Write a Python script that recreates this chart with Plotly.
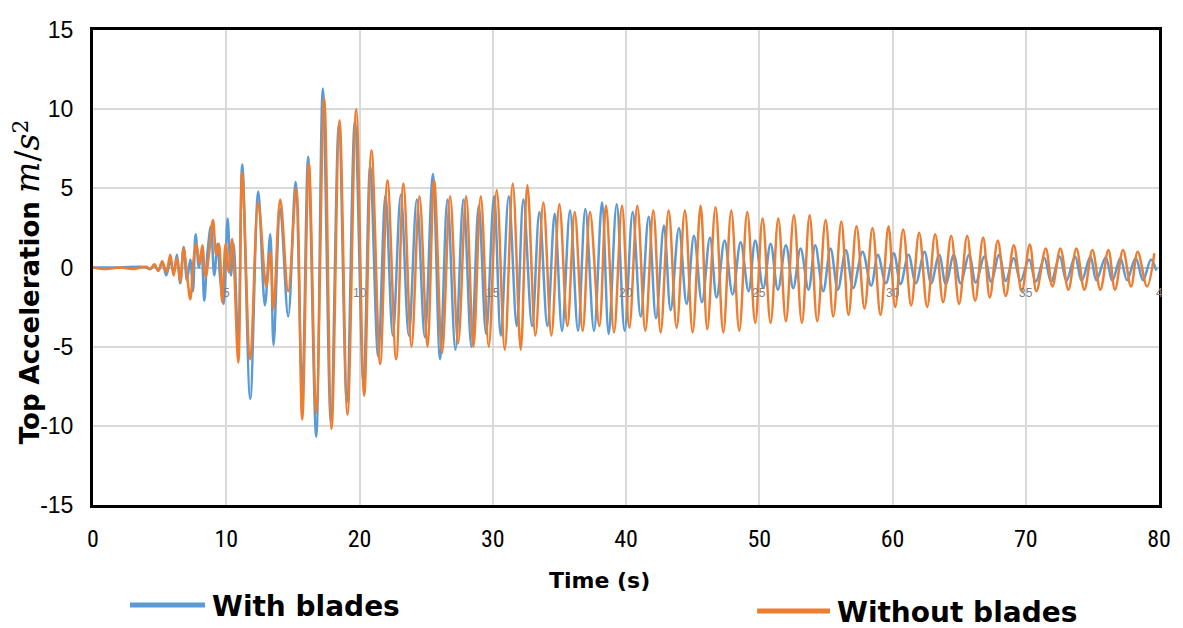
import plotly.graph_objects as go

# ---------------- data (extrema) ----------------
with_t = [0, 2, 3.5, 4.0, 4.3, 4.6, 4.9, 5.2, 5.5, 5.8, 6.05, 6.3, 6.55, 6.8, 7.05, 7.3, 7.5, 7.7, 7.95, 8.15, 8.35,
          8.6, 8.85, 9.1, 9.35, 9.55, 9.8, 10.1, 10.35, 10.55, 10.9,
          11.2, 11.8, 12.4, 12.9, 13.3, 13.55, 14.05, 14.65, 15.2, 15.7, 16.15, 16.75, 17.25, 17.85, 18.45, 19.05,
          19.65, 20.3, 20.8, 21.4, 21.95, 22.5, 23.1, 23.7, 24.3, 24.9, 25.5, 26.05, 26.6, 27.2, 27.8, 28.4, 28.95,
          29.5, 30.1, 30.6, 31.2, 31.8, 32.3, 32.95, 33.5, 34.1, 34.65, 35.2, 35.8, 36.4, 36.95, 37.6, 38.2, 38.7,
          39.3, 39.9, 40.5, 41.1, 41.7, 42.25, 42.85, 43.35, 43.97, 44.55, 45.1, 45.7, 46.3, 46.8, 47.4, 48.0, 48.6,
          49.2, 49.7, 50.3, 50.85, 51.4, 52.0, 52.55, 53.1, 53.7, 54.2, 54.8, 55.35, 55.9, 56.5, 57.05, 57.75, 58.4,
          58.9, 59.5, 60.1, 60.6, 61.2, 61.75, 62.4, 62.9, 63.5, 64.0, 64.6, 65.1, 65.75, 66.25, 66.9, 67.4, 68.0,
          68.5, 69.1, 69.6, 70.25, 70.75, 71.4, 71.9, 72.55, 73.05, 73.7, 74.2, 74.85, 75.3, 76.0, 76.5, 77.1, 77.6,
          78.25, 78.8, 79.4, 79.8]
with_v = [0, 0, 0.05, 0.0, -0.1, 0.15, -0.2, 0.3, -0.5, 0.4, -0.3, 0.8, -1.0, 1.3, -0.8, 0.5, -1.5, 2.1, 0.0, 1.0, -2.1,
          1.0, 2.6, -0.5, 1.5, -0.8, -2.3, 3.1, -0.5, 1.5, -4.8,
          6.5, -8.3, 4.8, -2.4, 2.1, -4.9, 3.7, -3.1, 5.4, -7.8, 7.0, -10.7, 11.3, -9.7, 9.0, -8.5,
          9.2, -7.3, 6.4, -5.6, 4.6, -4.3, 4.6, -4.3, 4.3, -4.4, 5.9, -5.8, 4.3, -5.2, 4.3, -5.0, 3.9,
          -4.2, 4.5, -4.3, 4.5, -3.7, 4.3, -3.7, 3.5, -3.7, 3.4, -4.0, 3.6, -4.0, 3.7, -4.0, 4.1, -4.2,
          4.0, -4.0, 3.5, -3.1, 3.2, -3.2, 2.65, -2.7, 2.5, -2.3, 2.0, -2.2, 1.9, -1.9, 1.7, -1.7, 1.6,
          -1.5, 1.7, -1.3, 1.5, -1.4, 1.4, -1.3, 1.2, -1.4, 1.4, -1.5, 1.2, -1.4, 1.1, -1.3, 1.0, -1.15,
          0.8, -1.0, 0.9, -1.05, 0.8, -1.0, 1.0, -1.0, 0.8, -1.05, 0.8, -1.0, 0.8, -0.95, 0.7, -0.9, 0.8,
          -0.85, 0.6, -0.85, 0.5, -0.9, 0.6, -0.9, 0.7, -0.85, 0.7, -0.85, 0.7, -0.8, 0.65, -0.85, 0.6, -0.8,
          0.6, -0.8, 0.5, -0.2]

without_t = [0, 1.0, 2.0, 3.0, 4.0, 4.3, 4.6, 4.9, 5.2, 5.5, 5.8, 6.05, 6.3, 6.55, 6.8, 7.05, 7.3, 7.55, 7.75, 8.0,
             8.2, 8.45, 8.7, 9.0, 9.25, 9.45, 9.7, 9.95, 10.2, 10.45, 10.9,
             11.2, 11.8, 12.4, 13.0, 13.3, 13.55, 14.05, 14.65, 15.25, 15.7, 16.2, 16.75, 17.35, 17.9, 18.5, 19.1,
             19.75, 20.35, 20.9, 21.55, 22.1, 22.75, 23.3, 23.9, 24.5, 25.1, 25.6, 26.2, 26.8, 27.4, 28.0, 28.55,
             29.1, 29.7, 30.3, 30.9, 31.5, 32.1, 32.6, 33.2, 33.8, 34.4, 35.0, 35.6, 36.15, 36.75, 37.3, 38.0, 38.5,
             39.1, 39.7, 40.25, 40.85, 41.45, 42.05, 42.6, 43.2, 43.8, 44.42, 45.0, 45.6, 46.1, 46.72, 47.3, 47.9,
             48.5, 49.1, 49.7, 50.25, 50.85, 51.43, 52.0, 52.6, 53.2, 53.78, 54.35, 54.98, 55.55, 56.16, 56.7, 57.3,
             57.9, 58.5, 59.1, 59.7, 60.2, 60.8, 61.4, 62.0, 62.6, 63.2, 63.8, 64.4, 65.0, 65.6, 66.2, 66.8, 67.3,
             67.9, 68.5, 69.1, 69.7, 70.3, 70.8, 71.5, 72.0, 72.6, 73.2, 73.8, 74.4, 75.0, 75.6, 76.2, 76.7, 77.3,
             77.9, 78.4, 79.1, 79.65]
without_v = [0, -0.1, 0.0, -0.1, 0.05, -0.1, 0.2, -0.2, 0.4, -0.3, 0.8, -0.5, 0.6, -0.9, 1.2, -0.4, -2.0, 0.5, 1.5, 0.2,
             1.4, -0.6, 0.8, 3.0, 0.8, 1.5, -2.2, 1.5, -0.3, 1.8, -6.0,
             6.0, -5.8, 4.1, -1.2, 1.0, -2.6, 4.3, -1.5, 5.0, -9.6, 6.6, -9.2, 10.7, -10.2, 9.3, -9.3,
             10.0, -8.1, 7.4, -6.1, 5.5, -5.8, 5.3, -5.0, 4.5, -5.0, 5.5, -5.4, 4.5, -4.8, 4.5, -5.0,
             4.5, -5.0, 4.9, -5.2, 5.3, -5.2, 5.2, -4.3, 4.1, -4.3, 4.0, -3.7, 3.5, -4.0, 3.5, -3.7, 3.9,
             -4.1, 3.9, -3.8, 3.9, -4.0, 3.6, -4.1, 3.6, -3.8, 3.6, -4.1, 3.9, -3.9, 3.8, -4.1, 3.6,
             -4.0, 3.5, -3.5, 3.1, -3.5, 3.1, -3.4, 3.3, -3.5, 3.3, -3.4, 3.0, -3.1, 2.9, -3.0, 2.6,
             -2.6, 2.5, -3.0, 2.6, -2.5, 2.4, -2.4, 2.2, -2.5, 2.1, -2.2, 2.0, -2.3, 2.0, -2.1, 1.9, -1.9,
             1.7, -1.8, 1.4, -1.5, 1.45, -1.5, 1.2, -1.2, 1.2, -1.4, 1.2, -1.4, 1.1, -1.4, 1.1, -1.4, 1.1,
             -1.2, 1.0, -1.2, 0.9]

x_ticks = [0, 10, 20, 30, 40, 50, 60, 70, 80]
x_labels = ["0", "10", "20", "30", "40", "50", "60", "70", "80"]
y_ticks = [-15, -10, -5, 0, 5, 10, 15]
y_labels = ["-15", "-10", "-5", "0", "5", "10", "15"]
inner_labels = ["5", "10", "15", "20", "25", "30", "35", "4"]
inner_pos = [10, 20, 30, 40, 50, 60, 70, 80]

BLUE = "#5B9BD5"
ORANGE = "#ED7D31"
XFONT = "Liberation Sans Narrow, Roboto Condensed, Roboto, Arial"
YFONT = "Liberation Sans, Arial"
BOLDFONT = "DejaVu Sans, Arial"

fig = go.Figure()
fig.add_trace(go.Scatter(x=with_t, y=with_v, mode="lines", name="With blades",
                         line=dict(color=BLUE, width=2.5, shape="spline", smoothing=1.0)))
fig.add_trace(go.Scatter(x=without_t, y=without_v, mode="lines", name="Without blades",
                         line=dict(color=ORANGE, width=2.5, shape="spline", smoothing=1.0)))

fig.update_xaxes(range=[0, 80], tickvals=x_ticks, ticktext=x_labels, showgrid=True, gridcolor="#d9d9d9",
                 gridwidth=1.5, showline=True, mirror=True, linecolor="black", linewidth=3, zeroline=False,
                 tickfont=dict(family=XFONT, size=24, color="black"), ticks="", ticklabelstandoff=10)
fig.update_yaxes(range=[-15, 15], tickvals=y_ticks, ticktext=y_labels, showgrid=True, gridcolor="#d9d9d9",
                 gridwidth=1.5, showline=True, mirror=True, linecolor="black", linewidth=3, zeroline=True,
                 zerolinecolor="#bfbfbf", zerolinewidth=1.5,
                 tickfont=dict(family=YFONT, size=23, color="black"), ticks="", ticklabelstandoff=12)

for lab, pos in zip(inner_labels, inner_pos):
    fig.add_annotation(x=pos, y=-1.6, text=lab, showarrow=False, xanchor="center", yanchor="middle",
                       font=dict(family="Arial", size=12, color="#808080"))

fig.add_annotation(xref="paper", yref="paper", x=-0.0615, y=0.47, textangle=-90, showarrow=False,
                   xanchor="center", yanchor="middle",
                   text="<b>Top Acceleration</b> <span style=\"font-family:'DejaVu Serif';font-style:italic;font-size:33px\">m</span>"
                        "<span style=\"font-family:'DejaVu Serif';font-size:33px\">/</span>"
                        "<span style=\"font-family:'DejaVu Serif';font-style:italic;font-size:33px\">s</span>"
                        "<sup><span style=\"font-family:'DejaVu Serif';font-size:22px\">2</span></sup>",
                   font=dict(family=BOLDFONT, size=26, color="black"))
fig.add_annotation(xref="paper", yref="paper", x=0.4756, y=-0.158, showarrow=False,
                   xanchor="center", yanchor="middle",
                   text="<b>Time (s)</b>", font=dict(family=BOLDFONT, size=22, color="black"))

# legend
fig.add_shape(type="line", xref="paper", yref="paper", x0=0.0347, x1=0.1051, y0=-0.2105, y1=-0.2105,
              line=dict(color=BLUE, width=5))
fig.add_annotation(xref="paper", yref="paper", x=0.1098, y=-0.2147, xanchor="left", yanchor="middle",
                   showarrow=False, text="<b>With blades</b>",
                   font=dict(family=BOLDFONT, size=28, color="black"))
fig.add_shape(type="line", xref="paper", yref="paper", x0=0.623, x1=0.6914, y0=-0.2232, y1=-0.2232,
              line=dict(color=ORANGE, width=5))
fig.add_annotation(xref="paper", yref="paper", x=0.696, y=-0.2253, xanchor="left", yanchor="middle",
                   showarrow=False, text="<b>Without blades</b>",
                   font=dict(family=BOLDFONT, size=28, color="black"))

fig.update_layout(width=1183, height=628, margin=dict(l=93, r=24, t=30, b=123),
                  paper_bgcolor="white", plot_bgcolor="white", showlegend=False)

fig.write_html("out.html")
